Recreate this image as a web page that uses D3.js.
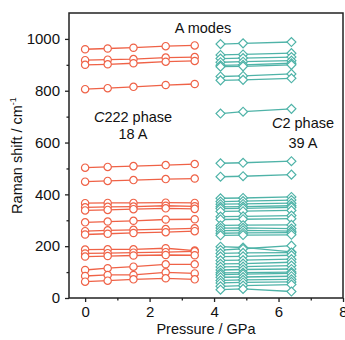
<!DOCTYPE html>
<html>
<head>
<meta charset="utf-8">
<script src="https://cdn.jsdelivr.net/npm/d3@7"></script>
<style>
    body { margin: 0; background: #fff; }
    svg { display: block; font-family: "Liberation Sans", Arial, sans-serif; }
</style>
</head>
<body>
<div id="main"></div>
<script>
const ctx = {
    W: 345,
    H: 340,
    margin: { top: 13, right: 2, bottom: 42, left: 69 },
};

// pressures (GPa) for each phase
const c222Pressures = [0, 0.7, 1.5, 2.5, 3.4];
const c2Pressures = [4.2, 4.9, 6.4];

// C222 phase, 18 A modes (cm-1)
const c222Modes = [
    [960, 963, 966, 972, 975],
    [918, 920, 922, 928, 930],
    [900, 902, 906, 912, 915],
    [806, 810, 815, 822, 826],
    [503, 506, 509, 513, 517],
    [449, 452, 455, 459, 461],
    [366, 367, 367, 368, 367],
    [350, 352, 353, 356, 354],
    [338, 340, 343, 346, 344],
    [292, 295, 298, 303, 304],
    [258, 261, 263, 266, 269],
    [245, 248, 251, 254, 258],
    [187, 188, 188, 192, 183],
    [172, 173, 175, 177, 180],
    [160, 162, 164, 166, 165],
    [108, 115, 121, 130, 130],
    [85, 89, 89, 99, 95],
    [63, 67, 72, 76, 72]
];

// C2 phase, 39 A modes (cm-1)
const c2Modes = [
    [980, 983, 988],
    [938, 940, 945],
    [924, 926, 930],
    [910, 912, 916],
    [898, 900, 906],
    [893, 894, 900],
    [855, 857, 865],
    [840, 842, 848],
    [712, 719, 730],
    [520, 522, 528],
    [468, 470, 476],
    [385, 386, 390],
    [372, 374, 378],
    [362, 363, 366],
    [352, 353, 356],
    [345, 346, 350],
    [334, 335, 338],
    [314, 315, 318],
    [303, 304, 306],
    [280, 281, 282],
    [270, 271, 268],
    [260, 261, 258],
    [250, 251, 252],
    [242, 243, 244],
    [198, 195, 178],
    [185, 190, 202],
    [172, 174, 175],
    [160, 161, 165],
    [145, 146, 150],
    [132, 133, 138],
    [120, 121, 125],
    [108, 110, 112],
    [97, 98, 100],
    [90, 92, 95],
    [80, 81, 84],
    [68, 70, 72],
    [58, 60, 62],
    [45, 48, 52],
    [32, 35, 25]
];

const xTicks = [0, 2, 4, 6, 8];
const yTicks = [0, 200, 400, 600, 800, 1000];

function createChart() {
    const m = ctx.margin;
    const svg = d3.select("#main").append("svg")
        .attr("width", ctx.W)
        .attr("height", ctx.H);

    const x = d3.scaleLinear().domain([-0.5, 8]).range([m.left, ctx.W - m.right]);
    const y = d3.scaleLinear().domain([0, 1100]).range([ctx.H - m.bottom, m.top]);

    // minor ticks
    const xMinor = d3.axisBottom(x).tickValues([1, 3, 5, 7]).tickSize(2.5).tickFormat("");
    const yMinor = d3.axisLeft(y).tickValues([100, 300, 500, 700, 900]).tickSize(2.5).tickFormat("");
    svg.append("g").attr("transform", `translate(0,${y(0)})`).call(xMinor);
    svg.append("g").attr("transform", `translate(${x(-0.5)},0)`).call(yMinor);

    svg.append("g")
        .attr("transform", `translate(0,${y(0)})`)
        .call(d3.axisBottom(x).tickValues(xTicks).tickSize(4).tickPadding(4).tickFormat(d3.format("d")));
    svg.append("g")
        .attr("transform", `translate(${x(-0.5)},0)`)
        .call(d3.axisLeft(y).tickValues(yTicks).tickSize(4).tickPadding(5).tickFormat(d3.format("d")));

    svg.selectAll(".domain").remove();
    svg.selectAll(".tick line").attr("stroke", "#222").attr("stroke-width", 1.3);
    svg.selectAll(".tick text").attr("font-size", 15).attr("fill", "#111")
        .attr("font-family", "Liberation Sans, Arial, sans-serif");

    // frame
    svg.append("rect")
        .attr("x", x(-0.5)).attr("y", y(1100))
        .attr("width", x(8) - x(-0.5)).attr("height", y(0) - y(1100))
        .attr("fill", "none").attr("stroke", "#222").attr("stroke-width", 1.5);

    const line = d3.line().x(d => x(d[0])).y(d => y(d[1]));

    function drawPhase(modes, pressures, color, shape) {
        const g = svg.append("g");
        modes.forEach(row => {
            const pts = row.map((v, i) => [pressures[i], v]);
            g.append("path")
                .attr("d", line(pts))
                .attr("fill", "none")
                .attr("stroke", color)
                .attr("stroke-width", 1.3);
        });
        modes.forEach(row => {
            row.forEach((v, i) => {
                g.append("path")
                    .attr("d", d3.symbol().type(shape).size(shape === d3.symbolCircle ? 42 : 40)())
                    .attr("transform", `translate(${x(pressures[i])},${y(v)})` + (shape === d3.symbolSquare ? " rotate(45)" : ""))
                    .attr("fill", "#fff")
                    .attr("stroke", color)
                    .attr("stroke-width", 1.2);
            });
        });
    }

    drawPhase(c222Modes, c222Pressures, "#ef6247", d3.symbolCircle);
    drawPhase(c2Modes, c2Pressures, "#4fb3a8", d3.symbolSquare);

    // annotations
    const ann = svg.append("g").attr("font-size", 14.5).attr("fill", "#111").attr("text-anchor", "middle");
    ann.append("text").attr("x", 203).attr("y", 33).text("A modes");
    const t1 = ann.append("text").attr("x", 133).attr("y", 122);
    t1.append("tspan").attr("font-style", "italic").text("C");
    t1.append("tspan").text("222 phase");
    ann.append("text").attr("x", 133).attr("y", 139).text("18 A");
    const t2 = ann.append("text").attr("x", 303).attr("y", 128);
    t2.append("tspan").attr("font-style", "italic").text("C");
    t2.append("tspan").text("2 phase");
    ann.append("text").attr("x", 303).attr("y", 148).text("39 A");

    // axis titles
    svg.append("text")
        .attr("x", x(3.75)).attr("y", 334)
        .attr("text-anchor", "middle").attr("font-size", 14.5).attr("fill", "#111")
        .text("Pressure / GPa");

    const yl = svg.append("text")
        .attr("transform", `translate(22,${(y(0) + y(1100)) / 2}) rotate(-90)`)
        .attr("text-anchor", "middle").attr("font-size", 14.5).attr("fill", "#111");
    yl.append("tspan").text("Raman shift / cm");
    yl.append("tspan").attr("font-size", 9).attr("dy", -6).text("-1");
}

createChart();
</script>
</body>
</html>
